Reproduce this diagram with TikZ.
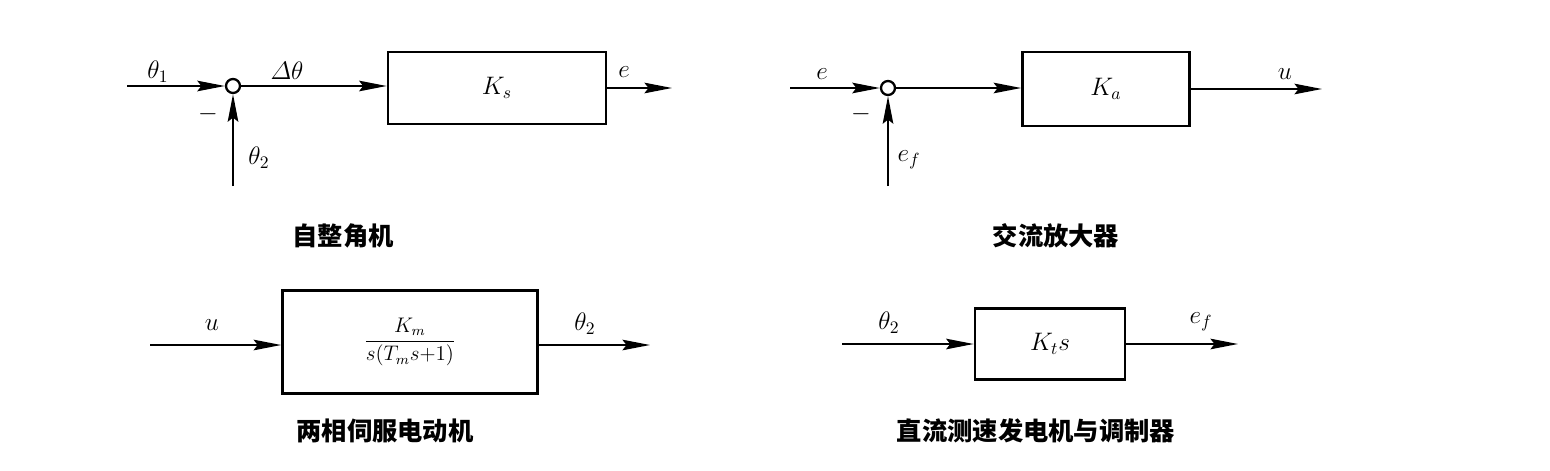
\documentclass[tikz,border=0pt]{standalone}
\usepackage{amsmath}
\usepackage{fontspec}
\newfontfamily\cjk{Noto Sans CJK SC}
\usetikzlibrary{arrows.meta}
\tikzset{
  blk/.style={draw,line width=1.5pt,inner sep=0pt},
  sig/.style={line width=1.3pt,-{Stealth[length=5.5mm,width=2.1mm,inset=0.8mm]}},
  sumpt/.style={circle,draw,line width=1.3pt,inner sep=0pt,minimum size=2.8mm},
  lbl/.style={font=\Large},
  captxt/.style={font=\Large\cjk\bfseries}
}
\begin{document}
\begin{tikzpicture}[x=0.02cm,y=-0.02cm]
\useasboundingbox (0,0) rectangle (1550,470);
% synchro
\coordinate (in1) at (127,86);
\node[sumpt] (s1) at (233,86) {};
\coordinate (fb1) at (233,186);
\node[blk,minimum width=4.36cm,minimum height=1.44cm] (ks) at (497,88) {};
\node[lbl] at (ks.center) {$K_s$};
\coordinate (out1) at (672,88);
\draw[sig] (in1) -- (s1);
\draw[sig] (fb1) -- (s1);
\draw[sig] (s1) -- (s1 -| ks.west);
\draw[sig] (ks.east |- out1) -- (out1);
\node[lbl] at (158,72) {$\theta_1$};
\node[lbl] at (208,114) {$-$};
\node[lbl] at (259,158) {$\theta_2$};
\node[lbl] at (287,71) {$\varDelta\theta$};
\node[lbl] at (624,72) {$e$};
\node[captxt] (c1) at (343,236) {自整角机};
% amplifier
\coordinate (in2) at (790,88);
\node[sumpt] (s2) at (888,88) {};
\coordinate (fb2) at (888,186);
\node[blk,minimum width=3.34cm,minimum height=1.48cm] (ka) at (1106,89) {};
\node[lbl] at (ka.center) {$K_a$};
\coordinate (out2) at (1322,89);
\draw[sig] (in2) -- (s2);
\draw[sig] (fb2) -- (s2);
\draw[sig] (s2) -- (s2 -| ka.west);
\draw[sig] (ka.east |- out2) -- (out2);
\node[lbl] at (822,74) {$e$};
\node[lbl] at (861,114) {$-$};
\node[lbl] at (909,160) {$e_f$};
\node[lbl] at (1285,74) {$u$};
\node[captxt] (c2) at (1056,236) {交流放大器};
% motor
\coordinate (in3) at (150,345);
\node[blk,minimum width=5.1cm,minimum height=2.06cm] (km) at (410,342) {};
\node[font=\large] at (km.center) {$\dfrac{K_m}{s(T_m s{+}1)}$};
\coordinate (out3) at (650,345);
\draw[sig] (in3) -- (in3 -| km.west);
\draw[sig] (km.east |- out3) -- (out3);
\node[lbl] at (212,325) {$u$};
\node[lbl] at (585,324) {$\theta_2$};
\node[captxt] (c3) at (385,431) {两相伺服电动机};
% tachometer
\coordinate (in4) at (842,344);
\node[blk,minimum width=3cm,minimum height=1.42cm] (kt) at (1050,344) {};
\node[lbl] at (kt.center) {$K_t s$};
\coordinate (out4) at (1238,344);
\draw[sig] (in4) -- (in4 -| kt.west);
\draw[sig] (kt.east |- out4) -- (out4);
\node[lbl] at (889,323) {$\theta_2$};
\node[lbl] at (1201,322) {$e_f$};
\node[captxt] (c4) at (1036,431) {直流测速发电机与调制器};
\end{tikzpicture}
\end{document}
